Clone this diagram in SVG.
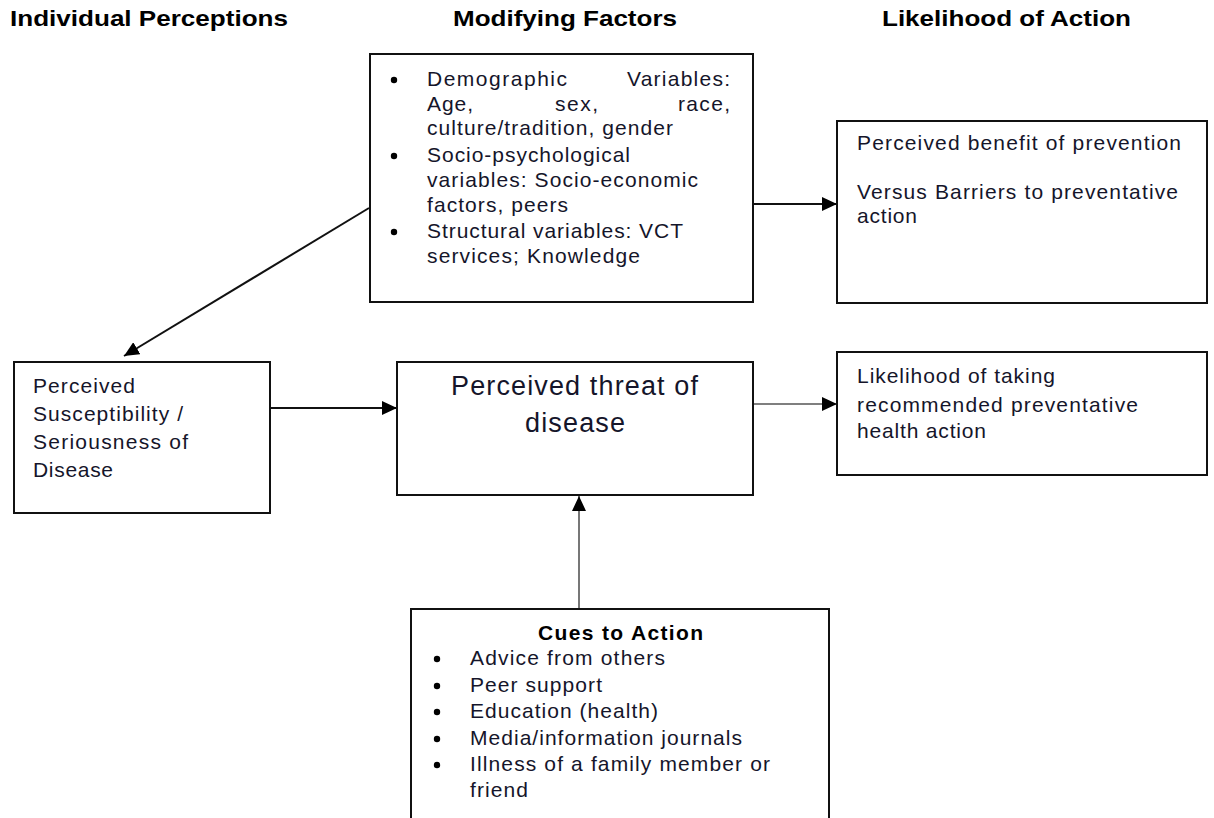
<svg xmlns="http://www.w3.org/2000/svg" width="1214" height="818" viewBox="0 0 1214 818">
<style>
.box{fill:#fff;stroke:#111;stroke-width:2}
.t{font-family:"Liberation Sans",Arial,sans-serif;font-size:21px;fill:#15152a}
.h{font-family:"Liberation Sans",Arial,sans-serif;font-size:22px;font-weight:bold;fill:#000}
.b{font-family:"Liberation Sans",Arial,sans-serif;font-size:21px;font-weight:bold;fill:#000}
.big{font-family:"Liberation Sans",Arial,sans-serif;font-size:27px;fill:#15152a}
.c{stroke:#111;stroke-width:2;fill:none}
.cg{stroke:#555;stroke-width:1.6;fill:none}
.dot{fill:#000}
</style>
<defs>
<marker id="ah" markerUnits="userSpaceOnUse" markerWidth="16" markerHeight="14" refX="15" refY="7" orient="auto">
<path d="M0,0 L15,7 L0,14 Z" fill="#000"/>
</marker>
</defs>
<rect width="1214" height="818" fill="#fff"/>

<g id="headers">
<text class="h" x="10" y="26" textLength="278" lengthAdjust="spacingAndGlyphs">Individual Perceptions</text>
<text class="h" x="453" y="26" textLength="224" lengthAdjust="spacingAndGlyphs">Modifying Factors</text>
<text class="h" x="882" y="26" textLength="249" lengthAdjust="spacingAndGlyphs">Likelihood of Action</text>
</g>

<g id="connectors">
<line class="c" x1="369" y1="208" x2="124" y2="356" marker-end="url(#ah)"/>
<line class="c" x1="270" y1="408" x2="397" y2="408" marker-end="url(#ah)"/>
<line class="c" x1="753" y1="204" x2="837" y2="204" marker-end="url(#ah)"/>
<line class="cg" x1="753" y1="404" x2="837" y2="404" marker-end="url(#ah)"/>
<line class="cg" x1="579" y1="608" x2="579" y2="496" marker-end="url(#ah)"/>
</g>

<g id="modifying-factors">
<rect class="box" x="370" y="54" width="383" height="248"/>
<circle class="dot" cx="394" cy="80" r="3.2"/>
<text class="t" x="427" y="86" textLength="140">Demographic</text>
<text class="t" x="627" y="86" textLength="103">Variables:</text>
<text class="t" x="427" y="111" textLength="46">Age,</text>
<text class="t" x="555" y="111" textLength="43">sex,</text>
<text class="t" x="678" y="111" textLength="52">race,</text>
<text class="t" x="427" y="135" textLength="246">culture/tradition, gender</text>
<circle class="dot" cx="394" cy="156" r="3.2"/>
<text class="t" x="427" y="162" textLength="203">Socio-psychological</text>
<text class="t" x="427" y="187" textLength="271">variables:  Socio-economic</text>
<text class="t" x="427" y="212" textLength="141">factors, peers</text>
<circle class="dot" cx="394" cy="232" r="3.2"/>
<text class="t" x="427" y="238" textLength="256">Structural variables:  VCT</text>
<text class="t" x="427" y="263" textLength="213">services; Knowledge</text>
</g>

<g id="benefit-barriers">
<rect class="box" x="837" y="121" width="370" height="182"/>
<text class="t" x="857" y="150" textLength="324">Perceived benefit of prevention</text>
<text class="t" x="857" y="199" textLength="321">Versus Barriers to preventative</text>
<text class="t" x="857" y="223" textLength="60">action</text>
</g>

<g id="susceptibility">
<rect class="box" x="14" y="362" width="256" height="151"/>
<text class="t" x="33" y="393" textLength="102">Perceived</text>
<text class="t" x="33" y="421" textLength="150">Susceptibility /</text>
<text class="t" x="33" y="449" textLength="155">Seriousness of</text>
<text class="t" x="33" y="477" textLength="80">Disease</text>
</g>

<g id="threat">
<rect class="box" x="397" y="362" width="356" height="133"/>
<text class="big" x="451" y="395" textLength="247">Perceived threat of</text>
<text class="big" x="525" y="432" textLength="100">disease</text>
</g>

<g id="likelihood">
<rect class="box" x="837" y="352" width="370" height="123"/>
<text class="t" x="857" y="383" textLength="198">Likelihood of taking</text>
<text class="t" x="857" y="412" textLength="281">recommended preventative</text>
<text class="t" x="857" y="438" textLength="129">health action</text>
</g>

<g id="cues">
<rect class="box" x="411" y="609" width="418" height="215"/>
<text class="b" x="538" y="640" textLength="165">Cues to Action</text>
<circle class="dot" cx="437" cy="659" r="3.2"/>
<text class="t" x="470" y="665" textLength="195">Advice from others</text>
<circle class="dot" cx="437" cy="686" r="3.2"/>
<text class="t" x="470" y="692" textLength="132">Peer support</text>
<circle class="dot" cx="437" cy="712" r="3.2"/>
<text class="t" x="470" y="718" textLength="188">Education (health)</text>
<circle class="dot" cx="437" cy="739" r="3.2"/>
<text class="t" x="470" y="745" textLength="272">Media/information journals</text>
<circle class="dot" cx="437" cy="765" r="3.2"/>
<text class="t" x="470" y="771" textLength="300">Illness of a family member or</text>
<text class="t" x="470" y="797" textLength="58">friend</text>
</g>
</svg>
